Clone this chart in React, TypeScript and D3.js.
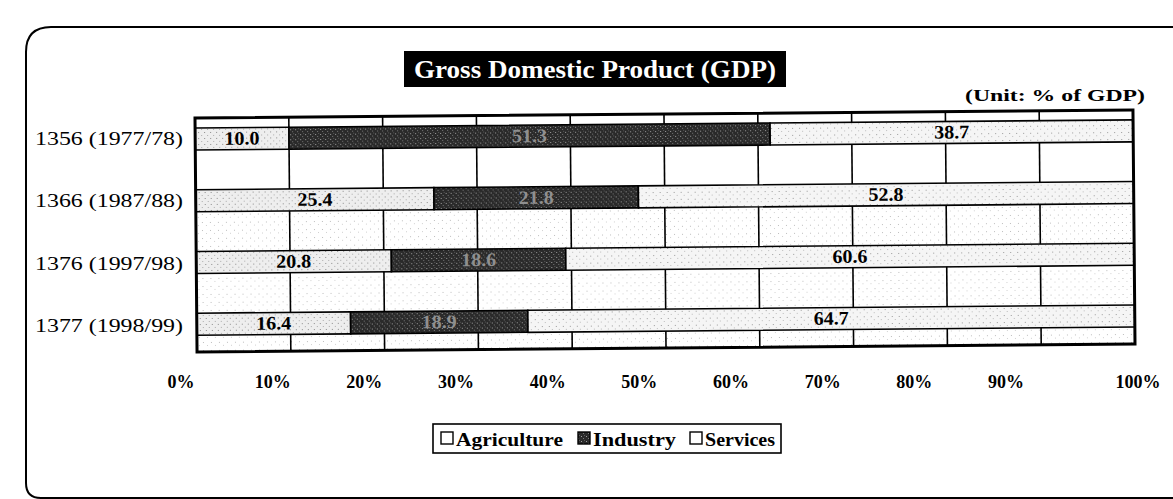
import React from "react";
import * as d3 from "d3";

const categories = ["1356 (1977/78)", "1366 (1987/88)", "1376 (1997/98)", "1377 (1998/99)"];
const agriculture = [10.0, 25.4, 20.8, 16.4];
const industry = [51.3, 21.8, 18.6, 18.9];
const services = [38.7, 52.8, 60.6, 64.7];
const seriesNames = ["Agriculture", "Industry", "Services"];
const tickValues = [0, 10, 20, 30, 40, 50, 60, 70, 80, 90, 100];
const titleText = "Gross Domestic Product (GDP)";
const unitText = "(Unit: % of GDP)";

const W = 1173;
const H = 499;
const SERIF = "'Liberation Serif', 'Times New Roman', serif";

export default function App() {
  const left = 196, right = 1134, top = 114, bottom = 348;
  const x = d3.scaleLinear().domain([0, 100]).range([left, right]);
  const y = d3.scaleBand<string>().domain(categories).range([top, bottom]).paddingInner(0.643).paddingOuter(0.217).align(0.37);
  // tick label positions as printed (slightly offset from the grid in the original)
  const xl = d3.scaleLinear().domain([0, 90, 100]).range([181, 1006, 1138]);
  const yl = d3.scaleBand<string>().domain(categories).range([113, 352]).paddingInner(0.646).paddingOuter(0.244);

  const rows = categories.map((c, i) => {
    const vals = [agriculture[i], industry[i], services[i]];
    let acc = 0;
    const segs = vals.map((v, k) => {
      const s = { key: seriesNames[k], x0: acc, x1: acc + v, v };
      acc += v;
      return s;
    });
    return { c, segs };
  });

  const fills = ["url(#agri)", "url(#ind)", "url(#serv)"];
  const labelColor = ["#000", "#8f8f8f", "#000"];
  const bgStart = (y(categories[1]) ?? 0) + y.bandwidth();

  const legendSquares = [441, 578, 690];
  const legendText = [456, 593, 705];
  const legendLen = [107, 83, 70];

  return (
    <svg width={W} height={H} style={{ display: "block", position: "absolute", left: 0, top: 0, background: "#fff" }}>
      <defs>
        <pattern id="agri" width="6" height="6" patternUnits="userSpaceOnUse">
          <rect width="6" height="6" fill="#eeeeee" />
          <rect x="1" y="2" width="1" height="1" fill="#8a8a8a" />
          <rect x="4" y="5" width="1" height="1" fill="#aaaaaa" />
        </pattern>
        <pattern id="serv" width="7" height="7" patternUnits="userSpaceOnUse">
          <rect width="7" height="7" fill="#f5f5f5" />
          <rect x="2" y="3" width="1" height="1" fill="#999" />
          <rect x="5" y="6" width="1" height="1" fill="#bbb" />
        </pattern>
        <pattern id="ind" width="5" height="5" patternUnits="userSpaceOnUse">
          <rect width="5" height="5" fill="#2a2a2a" />
          <rect x="1" y="1" width="1" height="1" fill="#a0a0a0" />
          <rect x="3" y="3" width="1" height="1" fill="#7a7a7a" />
          <rect x="4" y="0" width="1" height="1" fill="#5a5a5a" />
        </pattern>
        <pattern id="bg" width="8" height="8" patternUnits="userSpaceOnUse">
          <rect width="8" height="8" fill="#fff" />
          <rect x="2" y="2" width="1" height="1" fill="#bdbdbd" />
          <rect x="6" y="5" width="1" height="1" fill="#d0d0d0" />
        </pattern>
      </defs>

      {/* outer rounded frame */}
      <path d={`M26,483 L26,52 Q26,27 51,27 L${W + 5},27`} fill="none" stroke="#000" strokeWidth={2} />
      <path d={`M26,483 Q26,498 41,498 L${W + 5},498`} fill="none" stroke="#000" strokeWidth={2} />

      {/* title */}
      <rect x={404} y={51} width={382} height={36} fill="#000" />
      <text x={595} y={78} textAnchor="middle" fill="#fff" fontFamily={SERIF} fontWeight="bold" fontSize={25} textLength={362} lengthAdjust="spacingAndGlyphs">{titleText}</text>
      <text x={965} y={101} fill="#000" fontFamily={SERIF} fontWeight="bold" fontSize={17} textLength={180} lengthAdjust="spacingAndGlyphs">{unitText}</text>

      {/* plot, slightly tilted as in the scanned original */}
      <g transform={`rotate(-0.5, ${(left + right) / 2}, ${(top + bottom) / 2})`}>
        <rect x={left} y={top} width={right - left} height={bottom - top} fill="#fff" />
        <rect x={left} y={bgStart} width={right - left} height={bottom - bgStart} fill="url(#bg)" />

        {tickValues.slice(1, -1).map((t) => (
          <line key={t} x1={x(t)} x2={x(t)} y1={top} y2={bottom} stroke="#000" strokeWidth={1.6} />
        ))}

        {rows.map((r) => (
          <g key={r.c}>
            {r.segs.map((s, k) => (
              <rect key={s.key} x={x(s.x0)} y={y(r.c)} width={x(s.x1) - x(s.x0)} height={y.bandwidth()} fill={fills[k]} stroke="#000" strokeWidth={1.6} />
            ))}
            {r.segs.map((s, k) => (
              <text key={s.key + "l"} x={(x(s.x0) + x(s.x1)) / 2} y={(y(r.c) ?? 0) + y.bandwidth() / 2 + 6} textAnchor="middle" fill={labelColor[k]} fontFamily={SERIF} fontWeight="bold" fontSize={19} textLength={35} lengthAdjust="spacingAndGlyphs">{s.v.toFixed(1)}</text>
            ))}
          </g>
        ))}

        <rect x={left} y={top} width={right - left} height={bottom - top} fill="none" stroke="#000" strokeWidth={3} />
      </g>

      {/* category labels */}
      {categories.map((c) => (
        <text key={c} x={183} y={(yl(c) ?? 0) + yl.bandwidth() / 2 + 6} textAnchor="end" fontFamily={SERIF} fontSize={18.5} fill="#000" textLength={148} lengthAdjust="spacingAndGlyphs">{c}</text>
      ))}

      {/* x tick labels */}
      {tickValues.map((t) => (
        <text key={t} x={xl(t)} y={388} textAnchor="middle" fontFamily={SERIF} fontWeight="bold" fontSize={18} fill="#000">{`${t}%`}</text>
      ))}

      {/* legend */}
      <rect x={433} y={424} width={348} height={29} fill="#fff" stroke="#000" strokeWidth={1.6} />
      {seriesNames.map((n, i) => (
        <g key={n}>
          <rect x={legendSquares[i]} y={432} width={12} height={12} fill={i === 1 ? "url(#ind)" : "#fff"} stroke="#000" strokeWidth={1.4} />
          <text x={legendText[i]} y={446} fontFamily={SERIF} fontWeight="bold" fontSize={19} fill="#000" textLength={legendLen[i]} lengthAdjust="spacingAndGlyphs">{n}</text>
        </g>
      ))}
    </svg>
  );
}
